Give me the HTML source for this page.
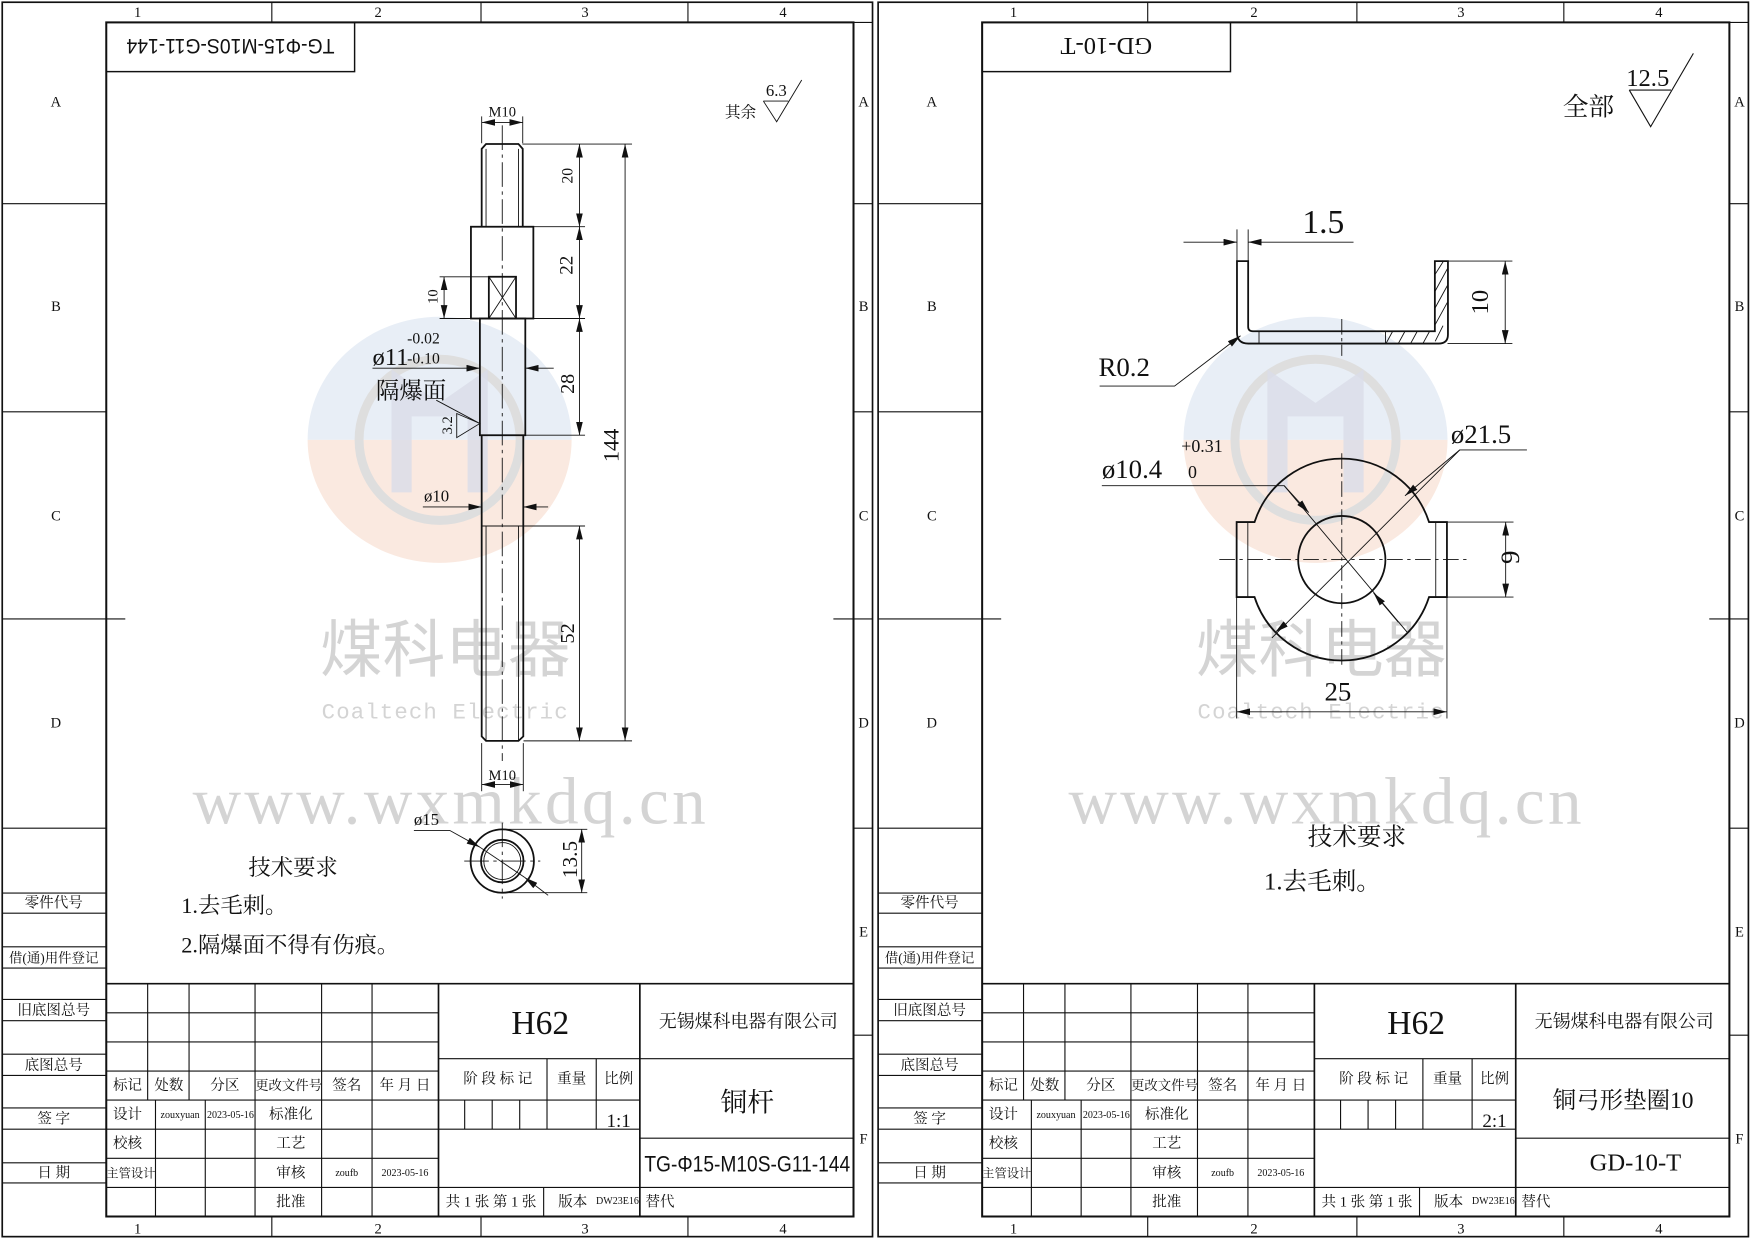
<!DOCTYPE html>
<html><head><meta charset="utf-8"><style>
html,body{margin:0;padding:0;background:#fff;}
svg{display:block;}
text{font-family:"Liberation Serif","Noto Serif CJK SC",serif;fill:#111;}
.s{font-family:"Liberation Sans","Noto Sans CJK SC",sans-serif;}
.wm{fill:#d4d4d4;}
</style></head><body>
<svg width="1754" height="1240" viewBox="0 0 1568 1108" preserveAspectRatio="none" xmlns="http://www.w3.org/2000/svg">
<defs>
<marker id="a" markerWidth="12" markerHeight="6" refX="12" refY="3" orient="auto-start-reverse" markerUnits="userSpaceOnUse"><path d="M0,0 L12,3 L0,6 z" fill="#111"/></marker>
<g id="frame" fill="none" stroke="#111">
<rect x="2" y="2" width="778" height="1103" stroke-width="1.5"/>
<rect x="95" y="20" width="668" height="1067" stroke-width="1.8"/>
<line x1="763" y1="20" x2="780" y2="20" stroke-width="1"/>
<g stroke-width="1">
<line x1="243" y1="2" x2="243" y2="20"/><line x1="430" y1="2" x2="430" y2="20"/><line x1="615" y1="2" x2="615" y2="20"/>
<line x1="243" y1="1087" x2="243" y2="1105"/><line x1="430" y1="1087" x2="430" y2="1105"/><line x1="615" y1="1087" x2="615" y2="1105"/>
<line x1="2" y1="182" x2="95" y2="182"/><line x1="2" y1="368" x2="95" y2="368"/><line x1="2" y1="553" x2="112" y2="553"/><line x1="2" y1="740" x2="95" y2="740"/>
<line x1="763" y1="182" x2="780" y2="182"/><line x1="763" y1="368" x2="780" y2="368"/><line x1="745" y1="553" x2="780" y2="553"/><line x1="763" y1="740" x2="780" y2="740"/><line x1="763" y1="925" x2="780" y2="925"/>
<line x1="2" y1="798" x2="95" y2="798"/><line x1="2" y1="816" x2="95" y2="816"/><line x1="2" y1="846" x2="95" y2="846"/><line x1="2" y1="865" x2="95" y2="865"/><line x1="2" y1="893" x2="95" y2="893"/><line x1="2" y1="912" x2="95" y2="912"/><line x1="2" y1="942" x2="95" y2="942"/><line x1="2" y1="961" x2="95" y2="961"/><line x1="2" y1="990" x2="95" y2="990"/><line x1="2" y1="1009" x2="95" y2="1009"/><line x1="2" y1="1039" x2="95" y2="1039"/><line x1="2" y1="1057" x2="95" y2="1057"/>
<line x1="95" y1="879" x2="763" y2="879" stroke-width="1.5"/>
<line x1="95" y1="905" x2="392" y2="905"/><line x1="95" y1="931" x2="392" y2="931"/><line x1="95" y1="957" x2="392" y2="957"/><line x1="95" y1="983" x2="392" y2="983"/><line x1="95" y1="1009" x2="392" y2="1009"/><line x1="95" y1="1035" x2="392" y2="1035"/><line x1="95" y1="1061" x2="763" y2="1061"/>
<line x1="132" y1="879" x2="132" y2="983"/><line x1="169" y1="879" x2="169" y2="983"/>
<line x1="139" y1="983" x2="139" y2="1087"/><line x1="183.5" y1="983" x2="183.5" y2="1087"/>
<line x1="228" y1="879" x2="228" y2="1087"/><line x1="287.5" y1="879" x2="287.5" y2="1087"/><line x1="332.6" y1="879" x2="332.6" y2="1087"/>
<line x1="392" y1="879" x2="392" y2="1087" stroke-width="1.5"/>
<line x1="572" y1="879" x2="572" y2="1087" stroke-width="1.5"/>
<line x1="392" y1="946" x2="763" y2="946"/><line x1="392" y1="983" x2="572" y2="983"/><line x1="392" y1="1009" x2="572" y2="1009"/><line x1="572" y1="1017" x2="763" y2="1017"/>
<line x1="415.4" y1="983" x2="415.4" y2="1009"/><line x1="440" y1="983" x2="440" y2="1009"/><line x1="464.6" y1="983" x2="464.6" y2="1009"/>
<line x1="489" y1="946" x2="489" y2="1009"/><line x1="533" y1="946" x2="533" y2="1009"/>
<line x1="486" y1="1061" x2="486" y2="1087"/>
</g>
<g fill="#111" stroke="none" font-size="13" text-anchor="middle">
<text x="123" y="15">1</text><text x="338" y="15">2</text><text x="523" y="15">3</text><text x="700" y="15">4</text>
<text x="123" y="1102">1</text><text x="338" y="1102">2</text><text x="523" y="1102">3</text><text x="700" y="1102">4</text>
<text x="50" y="95">A</text><text x="50" y="278">B</text><text x="50" y="465">C</text><text x="50" y="650">D</text>
<text x="772" y="95">A</text><text x="772" y="278">B</text><text x="772" y="465">C</text><text x="772" y="650">D</text><text x="772" y="837">E</text><text x="772" y="1022">F</text>
<text x="48" y="811">零件代号</text><text x="48" y="860" font-size="12">借(通)用件登记</text><text x="48" y="907">旧底图总号</text><text x="48" y="956">底图总号</text><text x="48" y="1004">签 字</text><text x="48" y="1052">日 期</text>
<text x="114" y="974">标记</text><text x="151" y="974">处数</text><text x="201" y="974">分区</text><text x="258" y="974" font-size="12">更改文件号</text><text x="310" y="974">签名</text><text x="362" y="974">年 月 日</text>
<text x="114" y="1000">设计</text><text x="161" y="999" font-size="9">zouxyuan</text><text x="206" y="999" font-size="9">2023-05-16</text><text x="260" y="1000">标准化</text>
<text x="114" y="1026">校核</text><text x="260" y="1026">工艺</text>
<text x="117" y="1052" font-size="11">主管设计</text><text x="260" y="1052">审核</text><text x="310" y="1051" font-size="9">zoufb</text><text x="362" y="1051" font-size="9">2023-05-16</text>
<text x="260" y="1078">批准</text>
<text x="445" y="968">阶 段 标 记</text><text x="511" y="968">重量</text><text x="553" y="968">比例</text>
<text x="439" y="1078">共 1 张 第 1 张</text><text x="512" y="1078">版本</text><text x="552" y="1076" font-size="9">DW23E16</text><text x="590" y="1078">替代</text>
<text x="669" y="918" font-size="16">无锡煤科电器有限公司</text>
<text x="483" y="924" font-size="30">H62</text>
</g>
</g>
<g id="logo">
<path d="M275,393 A118,110 0 0 1 511,393 Z" fill="#e8eef6"/>
<path d="M275,393 A118,110 0 0 0 511,393 Z" fill="#fae9e0"/>
<circle cx="393" cy="393" r="72" fill="none" stroke="#dedede" stroke-width="8"/>
<path d="M350,330 L393,360 L436,330 L436,440 L418,440 L418,372 L368,372 L368,440 L350,440 Z" fill="#d9dce8" opacity="0.8"/>
<text x="398" y="600" class="wm" font-size="56" text-anchor="middle" style="font-family:'Liberation Sans','Noto Sans CJK SC',sans-serif">煤科电器</text>
<text x="398" y="642" class="wm" font-size="20" text-anchor="middle" style="font-family:'Liberation Mono',monospace" letter-spacing="1">Coaltech Electric</text>
<text x="403" y="736" class="wm" font-size="60" text-anchor="middle" letter-spacing="3">www.wxmkdq.cn</text>
</g>
</defs>

<use href="#logo"/>
<use href="#logo" x="783"/>
<use href="#frame"/>
<use href="#frame" x="783"/>

<!-- LEFT SHEET -->
<rect x="95" y="20" width="222" height="44" fill="none" stroke="#111" stroke-width="1.3"/>
<text class="s" transform="translate(206,42) rotate(180)" y="7" font-size="19" text-anchor="middle" textLength="186" lengthAdjust="spacingAndGlyphs">TG-Φ15-M10S-G11-144</text>
<text x="668" y="993" font-size="24" text-anchor="middle">铜杆</text>
<text x="553" y="1007" font-size="17" text-anchor="middle">1:1</text>
<text class="s" x="668" y="1047" font-size="20" text-anchor="middle" textLength="184" lengthAdjust="spacingAndGlyphs">TG-Φ15-M10S-G11-144</text>

<g fill="none" stroke="#111" stroke-width="1.6">
<path d="M430.6,202.6 V133 L434.5,128.7 H463.5 L467.3,133 V202.6"/>
<rect x="421" y="202.6" width="55.8" height="82"/>
<rect x="437" y="247.3" width="24.3" height="37.3"/>
<rect x="429" y="284.6" width="40.6" height="104.3"/>
<path d="M430.6,388.9 V658 L434.5,662 H463.5 L467.8,658 V388.9"/>
<circle cx="449" cy="769.4" r="28.3"/>
<circle cx="449" cy="769.4" r="19"/>
</g>
<g fill="none" stroke="#111" stroke-width="0.8">
<path d="M437,247.3 L461.3,284.6 M461.3,247.3 L437,284.6"/>
<line x1="434.5" y1="133" x2="434.5" y2="202.6"/><line x1="463.5" y1="133" x2="463.5" y2="202.6"/>
<line x1="434.5" y1="470" x2="434.5" y2="662"/><line x1="463.5" y1="470" x2="463.5" y2="662"/>
<line x1="430.6" y1="470" x2="467.8" y2="470"/>
<circle cx="449" cy="769.4" r="16.5"/>
<line x1="449" y1="112" x2="449" y2="680" stroke-dasharray="22 4 3 4"/>
<line x1="415" y1="769.4" x2="483" y2="769.4" stroke-dasharray="22 4 3 4"/>
<line x1="449" y1="735" x2="449" y2="803" stroke-dasharray="22 4 3 4"/>
<line x1="467" y1="128.7" x2="565" y2="128.7"/><line x1="477" y1="202.6" x2="523" y2="202.6"/><line x1="477" y1="284.6" x2="523" y2="284.6"/><line x1="393" y1="284.6" x2="421" y2="284.6"/><line x1="393" y1="247.3" x2="437" y2="247.3"/><line x1="470" y1="388.9" x2="523" y2="388.9"/><line x1="468" y1="470" x2="523" y2="470"/><line x1="468" y1="662" x2="565" y2="662"/>
<line x1="430.6" y1="104" x2="430.6" y2="128"/><line x1="467.3" y1="104" x2="467.3" y2="128"/>
<line x1="430.6" y1="664" x2="430.6" y2="707"/><line x1="467.8" y1="664" x2="467.8" y2="707"/>
<line x1="449" y1="741" x2="525" y2="741"/><line x1="449" y1="797.7" x2="525" y2="797.7"/>
<line x1="518" y1="128.7" x2="518" y2="202.6" marker-start="url(#a)" marker-end="url(#a)"/>
<line x1="518" y1="202.6" x2="518" y2="284.6" marker-start="url(#a)" marker-end="url(#a)"/>
<line x1="518" y1="284.6" x2="518" y2="388.9" marker-start="url(#a)" marker-end="url(#a)"/>
<line x1="518" y1="470" x2="518" y2="662" marker-start="url(#a)" marker-end="url(#a)"/>
<line x1="558.8" y1="128.7" x2="558.8" y2="662" marker-start="url(#a)" marker-end="url(#a)"/>
<line x1="397" y1="247.3" x2="397" y2="284.6" marker-start="url(#a)" marker-end="url(#a)"/>
<line x1="430.6" y1="109.4" x2="467.3" y2="109.4" marker-start="url(#a)" marker-end="url(#a)"/>
<line x1="430.6" y1="701" x2="467.8" y2="701" marker-start="url(#a)" marker-end="url(#a)"/>
<line x1="520" y1="741" x2="520" y2="797.7" marker-start="url(#a)" marker-end="url(#a)"/>
<path d="M333,329 H429" marker-end="url(#a)"/><path d="M495,329 H469.6" marker-end="url(#a)"/>
<path d="M378,453 H430.6" marker-end="url(#a)"/><path d="M490,453 H467.8" marker-end="url(#a)"/>
<path d="M370,742 H402 L429,757" marker-end="url(#a)"/><path d="M490,800 L469,784" marker-end="url(#a)"/><line x1="429" y1="757" x2="469" y2="784"/>
<path d="M390,357.6 L429,378.4 M429,378.4 L408.3,369.5 L408.3,391 Z"/>
<path d="M682.4,90.3 H704.7 M682.4,90.3 L694.3,108.8 L716.7,71.5"/>
</g>
<g font-size="14" text-anchor="middle">
<text x="449" y="104" font-size="13">M10</text>
<text x="449" y="697" font-size="13">M10</text>
<text transform="translate(512,157) rotate(-90)">20</text>
<text transform="translate(512,237) rotate(-90)" font-size="17">22</text>
<text transform="translate(513,343) rotate(-90)" font-size="18">28</text>
<text transform="translate(513,566) rotate(-90)" font-size="18">52</text>
<text transform="translate(553,398) rotate(-90)" font-size="20">144</text>
<text transform="translate(391,265) rotate(-90)" font-size="13">10</text>
<text transform="translate(404,380) rotate(-90)" font-size="13">3.2</text>
<text transform="translate(516,768) rotate(-90)" font-size="19">13.5</text>
<text x="694" y="86" font-size="15">6.3</text>
</g>
<text x="333" y="326" font-size="22">ø11</text>
<text x="364" y="307" font-size="14">-0.02</text>
<text x="364" y="325" font-size="14">-0.10</text>
<text x="336" y="356" font-size="21">隔爆面</text>
<text x="379" y="448" font-size="15">ø10</text>
<text x="370" y="737" font-size="15">ø15</text>
<text x="648" y="105" font-size="14">其余</text>
<text x="262" y="782" font-size="20" text-anchor="middle">技术要求</text>
<text x="162" y="816" font-size="20">1.去毛刺。</text>
<text x="162" y="851" font-size="20">2.隔爆面不得有伤痕。</text>

<!-- RIGHT SHEET -->
<rect x="878" y="20" width="222" height="44" fill="none" stroke="#111" stroke-width="1.3"/>
<text transform="translate(989,42) rotate(180)" y="8" font-size="22" text-anchor="middle">GD-10-T</text>
<text x="1451" y="990" font-size="21" text-anchor="middle">铜弓形垫圈10</text>
<text x="1336" y="1007" font-size="17" text-anchor="middle">2:1</text>
<text x="1462" y="1046" font-size="22" text-anchor="middle">GD-10-T</text>

<g fill="none" stroke="#111">
<g stroke-width="0.8">
<path d="M1239,307 L1245,296 M1250,307 L1256,296 M1261,307 L1267,296 M1272,307 L1278,296 M1283,305 L1290,291 M1283,290 L1294,270 M1283,275 L1294,255 M1283,260 L1294,240 M1283,245 L1290,234"/>
<line x1="1125.5" y1="296" x2="1125.5" y2="307"/><line x1="1238.6" y1="296" x2="1238.6" y2="307"/>
<line x1="1199.5" y1="285" x2="1199.5" y2="318" stroke-dasharray="14 3 3 3"/>
<line x1="1090" y1="500" x2="1312" y2="500" stroke-dasharray="14 4 3 4"/>
<line x1="1199.5" y1="405" x2="1199.5" y2="596" stroke-dasharray="14 4 3 4"/>
<line x1="1115.5" y1="466.5" x2="1115.5" y2="533.5"/><line x1="1283.5" y1="466.5" x2="1283.5" y2="533.5"/>
<line x1="1105.8" y1="205" x2="1105.8" y2="233"/><line x1="1115.8" y1="205" x2="1115.8" y2="233"/>
<line x1="1294" y1="233.3" x2="1352" y2="233.3"/><line x1="1294" y1="307" x2="1352" y2="307"/>
<line x1="1294" y1="466.5" x2="1353" y2="466.5"/><line x1="1294" y1="533.5" x2="1353" y2="533.5"/>
<line x1="1105.5" y1="534" x2="1105.5" y2="642"/><line x1="1293.5" y1="534" x2="1293.5" y2="642"/>
<path d="M1058,216.4 H1105.8" marker-end="url(#a)"/><path d="M1210,216.4 H1115.8" marker-end="url(#a)"/>
<line x1="1345.6" y1="233.3" x2="1345.6" y2="307" marker-start="url(#a)" marker-end="url(#a)"/>
<line x1="1346" y1="466.5" x2="1346" y2="533.5" marker-start="url(#a)" marker-end="url(#a)"/>
<line x1="1105.5" y1="636" x2="1293.5" y2="636" marker-start="url(#a)" marker-end="url(#a)"/>
<path d="M983,345 H1050 L1109,300" marker-end="url(#a)"/>
<path d="M1365,402 H1305 L1137,570" /><path d="M1305,402 L1256,443" marker-end="url(#a)"/><path d="M1150,557 L1140,565" marker-end="url(#a)"/>
<path d="M985,434 H1148 L1258,565"/><path d="M1148,434 L1170,458" marker-end="url(#a)"/><path d="M1250,556 L1228,530" marker-end="url(#a)"/>
</g>
<g stroke-width="1.6">
<path d="M1105.8,233.3 H1115.8 V292 Q1115.8,296 1120,296 H1282.7 V233.3 H1294.4 V299 Q1294.4,307 1286,307 H1116 Q1105.8,307 1105.8,297 Z"/>
<path d="M1105.5,466.5 H1121.5 A82,82 0 0 1 1277.5,466.5 H1293.5 V533.5 H1277.5 A82,82 0 0 1 1121.5,533.5 H1105.5 Z"/>
<circle cx="1199.5" cy="500" r="39"/>
</g>
<path d="M1456.5,80.5 H1493.8 M1456.5,80.5 L1475.6,113.2 L1513.8,47.7" stroke-width="1"/>
</g>
<g text-anchor="middle">
<text x="1183" y="208" font-size="30">1.5</text>
<text transform="translate(1330,270) rotate(-90)" font-size="22">10</text>
<text transform="translate(1358,498) rotate(-90)" font-size="24">9</text>
<text x="1196" y="626" font-size="24">25</text>
<text x="1473" y="77" font-size="22">12.5</text>
</g>
<text x="982" y="336" font-size="24">R0.2</text>
<text x="1297" y="396" font-size="24">ø21.5</text>
<text x="985" y="427" font-size="24">ø10.4</text>
<text x="1056" y="404" font-size="16">+0.31</text>
<text x="1062" y="427" font-size="16">0</text>
<text x="1397" y="103" font-size="23">全部</text>
<text x="1213" y="755" font-size="22" text-anchor="middle">技术要求</text>
<text x="1130" y="795" font-size="22">1.去毛刺。</text>
</svg>
</body></html>
